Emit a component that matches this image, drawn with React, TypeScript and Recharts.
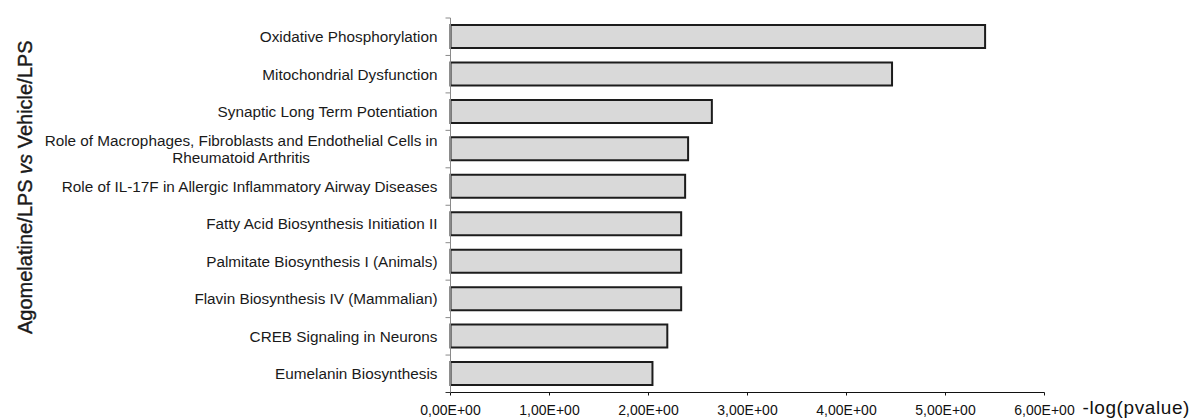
import React from 'react';
import { BarChart, Bar, XAxis, YAxis } from 'recharts';

// Enriched pathways, top to bottom
const categories = [
  'Oxidative Phosphorylation',
  'Mitochondrial Dysfunction',
  'Synaptic Long Term Potentiation',
  'Role of Macrophages, Fibroblasts and Endothelial Cells in Rheumatoid Arthritis',
  'Role of IL-17F in Allergic Inflammatory Airway Diseases',
  'Fatty Acid Biosynthesis Initiation II',
  'Palmitate Biosynthesis I (Animals)',
  'Flavin Biosynthesis IV (Mammalian)',
  'CREB Signaling in Neurons',
  'Eumelanin Biosynthesis',
];

// -log(pvalue) per pathway
const logP = [5.4, 4.46, 2.64, 2.4, 2.37, 2.33, 2.33, 2.33, 2.19, 2.04];

const xTicks = [0, 1, 2, 3, 4, 5, 6];

const FONT = '"Liberation Sans", Arial, Helvetica, sans-serif';
const LABEL_SIZE = 15.3;
const LABEL_MAX = 415;

const data = categories.map((name, i) => ({ name, value: logP[i] }));

let ctx: CanvasRenderingContext2D | null = null;
const measure = (s: string) => {
  if (!ctx) ctx = document.createElement('canvas').getContext('2d');
  if (!ctx) return s.length * 7;
  ctx.font = `${LABEL_SIZE}px ${FONT}`;
  return ctx.measureText(s).width;
};

// greedy word wrap for the long pathway names
const wrap = (s: string) => {
  const words = s.split(' ');
  const lines: string[] = [];
  let cur = '';
  words.forEach((w) => {
    const next = cur ? `${cur} ${w}` : w;
    if (cur && measure(next) > LABEL_MAX) {
      lines.push(cur);
      cur = w;
    } else {
      cur = next;
    }
  });
  if (cur) lines.push(cur);
  return lines;
};

const sciLabel = (v: number) => `${v.toFixed(2).replace('.', ',')}E+00`;

const TOP = 18;
const BOTTOM_AXIS = 26.5;
const HEIGHT = 419;
const BAND = (HEIGHT - TOP - BOTTOM_AXIS) / categories.length;
const TICK_GAP = 13;

const CategoryTick = (props: any) => {
  const { x, y, payload, index } = props;
  const lines = wrap(String(payload.value));
  const axisX = x + TICK_GAP;
  const lineH = 16.5;
  const blockW = Math.max(...lines.map(measure));
  const multi = lines.length > 1;
  return (
    <g>
      <line x1={axisX - 5} x2={axisX} y1={y - BAND / 2} y2={y - BAND / 2} stroke="#8a8a8a" strokeWidth={1} />
      {index === categories.length - 1 && (
        <line x1={axisX - 5} x2={axisX} y1={y + BAND / 2} y2={y + BAND / 2} stroke="#333" strokeWidth={1} />
      )}
      {lines.map((ln, i) => (
        <text
          key={i}
          x={multi ? x - blockW / 2 : x}
          y={y + (i - (lines.length - 1) / 2) * lineH}
          dy="0.36em"
          textAnchor={multi ? 'middle' : 'end'}
          fontSize={LABEL_SIZE}
          fontFamily={FONT}
          fill="#1a1a1a"
        >
          {ln}
        </text>
      ))}
    </g>
  );
};

const ValueTick = (props: any) => {
  const { x, y, payload } = props;
  return (
    <g>
      <text
        x={x}
        y={y}
        dy="0.71em"
        textAnchor="middle"
        style={{ fontSize: '14px', fontFamily: FONT }}
        fill="#111"
      >
        {sciLabel(Number(payload.value))}
      </text>
    </g>
  );
};

const YTitle = (props: any) => {
  const vb = props.viewBox || { x: 0, y: 0, width: 0, height: 0 };
  const cx = vb.x + 25;
  const cy = vb.y + vb.height / 2 - 18;
  return (
    <text
      x={cx}
      y={cy}
      transform={`rotate(-90, ${cx}, ${cy})`}
      textAnchor="middle"
      dominantBaseline="central"
      fontSize={20}
      fontFamily={FONT}
      fill="#1a1a1a"
      stroke="#1a1a1a"
      strokeWidth={0.4}
    >
      Agomelatine/LPS <tspan fontStyle="italic">vs</tspan> Vehicle/LPS
    </text>
  );
};

export default function App() {
  return (
    <div style={{ position: 'absolute', left: 0, top: 0, width: 1192, height: HEIGHT, background: '#fff' }}>
      <BarChart
        width={1192}
        height={HEIGHT}
        data={data}
        layout="vertical"
        margin={{ top: TOP, right: 147.5, bottom: 0, left: 0 }}
        barCategoryGap={0}
      >
        <XAxis
          type="number"
          domain={[0, 6]}
          ticks={xTicks}
          height={BOTTOM_AXIS}
          axisLine={{ stroke: '#111', strokeWidth: 1.2 }}
          tickLine={{ stroke: '#111' }}
          tickSize={3}
          tickMargin={10}
          tick={<ValueTick />}
          label={{
            value: '-log(pvalue)',
            position: 'right',
            offset: 38,
            fontSize: 19,
            fontFamily: FONT,
            fill: '#111',
            letterSpacing: 0.6,
            dy: 2,
          }}
        />
        <YAxis
          type="category"
          dataKey="name"
          width={450.5}
          interval={0}
          tickLine={false}
          tickSize={0}
          tickMargin={TICK_GAP}
          axisLine={{ stroke: '#8a8a8a' }}
          tick={CategoryTick}
          label={<YTitle />}
        />
        <Bar
          dataKey="value"
          fill="#d9d9d9"
          stroke="#1c1c1c"
          strokeWidth={2}
          barSize={23}
          isAnimationActive={false}
        />
      </BarChart>
    </div>
  );
}
